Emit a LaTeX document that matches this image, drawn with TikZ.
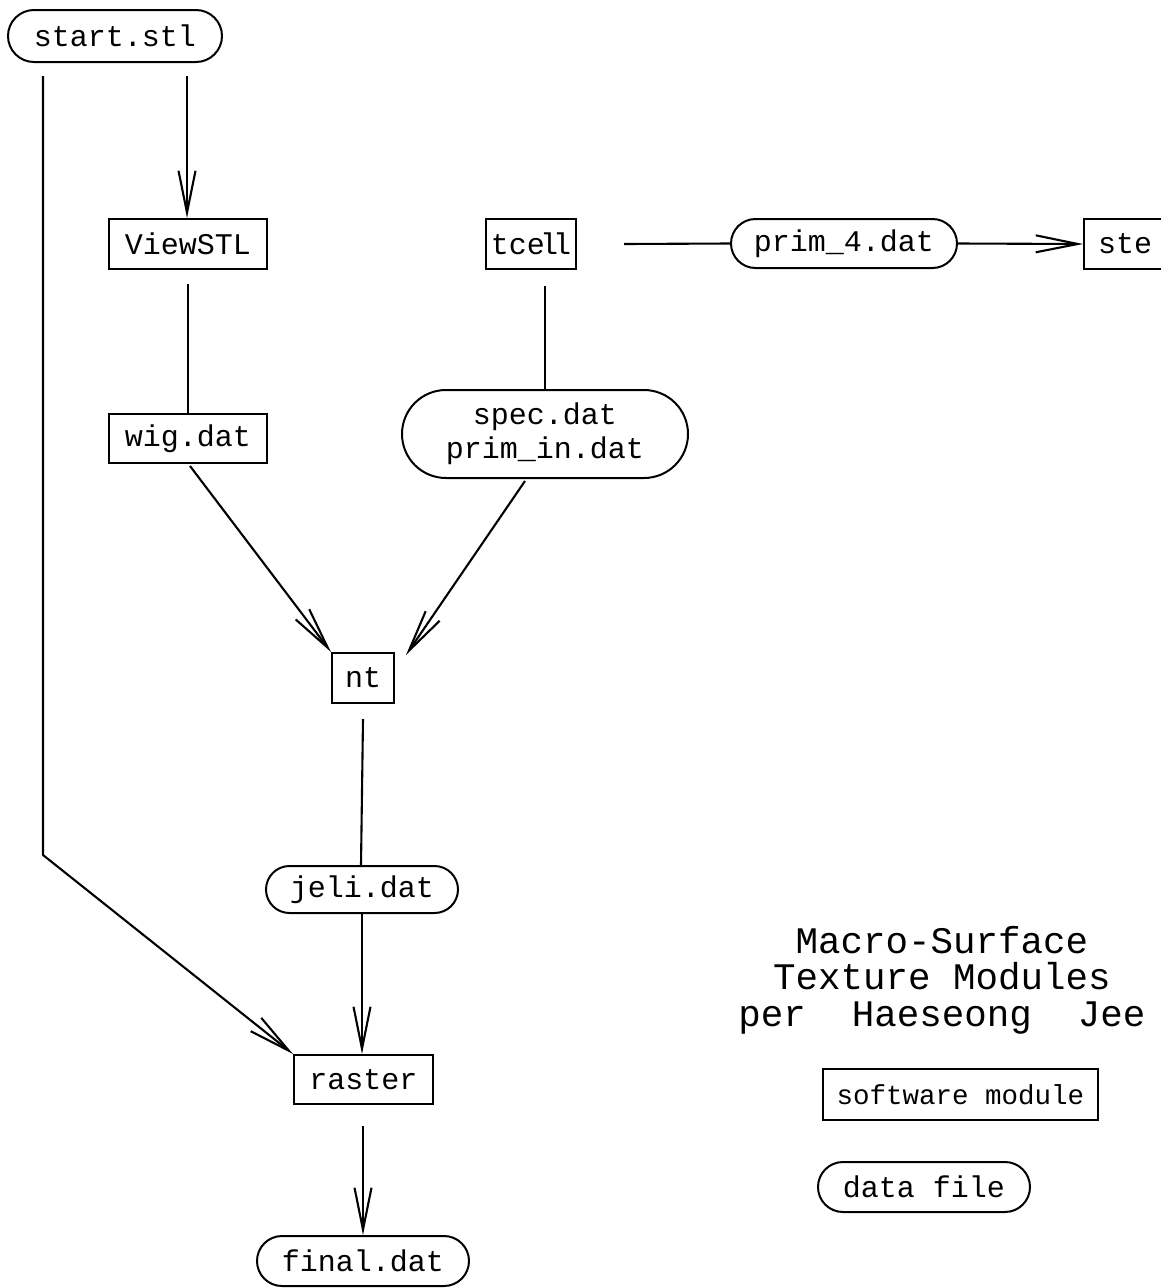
\documentclass[tikz,border=0pt]{standalone}
\usepackage{fontspec}
\setmonofont{Liberation Mono}
\usetikzlibrary{arrows.meta,shapes.misc}
\newcommand\lblfont{\fontsize{30}{34}\selectfont\ttfamily}
\newcommand\smlfont{\fontsize{27.5}{34}\selectfont\ttfamily}
\newcommand\ttlfont{\fontsize{37.5}{36.5}\selectfont\ttfamily}
\begin{document}
\begin{tikzpicture}[x=1pt,y=-1pt,
  modbox/.style={draw, rectangle, line width=2pt, inner sep=0pt, font=\lblfont},
  datpill/.style={draw, rounded rectangle, line width=2pt, inner sep=0pt, font=\lblfont},
  conn/.style={line width=2.1pt, line join=round},
  arr/.style={conn, -{Straight Barb[length=42pt, width=17pt]}}]
\useasboundingbox (0,0) rectangle (1161,1288);
\fill[white] (0,0) rectangle (1161,1288);
\clip (0,0) rectangle (1161,1288);

% nodes
\node[datpill, minimum width=214pt, minimum height=52pt] (start) at (115,36) {start.stl};
\node[modbox, minimum width=158pt, minimum height=50pt] (vstl) at (188,244) {ViewSTL};
\node[modbox, minimum width=158pt, minimum height=49pt] (wig) at (188,438.5) {wig.dat};
\node[modbox, minimum width=90pt, minimum height=50pt] (tcell) at (531,244) {tce\kern-5pt l\kern-5pt l};
\node[datpill, minimum width=226pt, minimum height=49pt] (prim4) at (844,243.5) {prim\_4.dat};
\node[modbox, anchor=west, minimum height=50pt, inner xsep=14pt, text width=100pt, align=left] (ste) at (1083,244) {ste};
\node[datpill, minimum width=286pt, minimum height=88pt, align=center] (spec) at (545,434) {spec.dat\\prim\_in.dat};
\node[modbox, minimum width=62pt, minimum height=50pt] (nt) at (363,678) {nt};
\node[datpill, minimum width=192pt, minimum height=47pt] (jeli) at (362,889.5) {jeli.dat};
\node[modbox, minimum width=139pt, minimum height=49pt] (raster) at (363.5,1079.5) {raster};
\node[datpill, minimum width=212pt, minimum height=50pt] (final) at (363,1261) {final.dat};

% legend
\node[align=center, font=\ttlfont] (title) at (942,980) {Macro-Surface\\Texture Modules\\per\hspace{46pt}Haeseong\hspace{46pt}Jee};
\node[modbox, font=\smlfont, minimum width=275pt, minimum height=51pt] (legmod) at (960.5,1094.5) {software module};
\node[datpill, minimum width=212pt, minimum height=50pt] (legdat) at (924,1187) {data file};

% connectors
\coordinate (bend) at (43,855);
\draw[arr] ([shift={(-72,13)}]start.south) -- (bend) -- (raster.north west);
\draw[arr] ([shift={(72,13)}]start.south) -- ([shift={(-1,0)}]vstl.north);
\draw[conn] ([shift={(0,14)}]vstl.south) -- (wig.north);
\draw[arr] ([shift={(2,2)}]wig.south) -- (nt.north west);
\draw[conn] ([shift={(14,16)}]tcell.south) -- (spec.north);
\draw[arr] ([shift={(-20,2)}]spec.south) -- ([shift={(11,3)}]nt.north east);
\draw[conn] ([shift={(0,15)}]nt.south) -- ([shift={(-1,0)}]jeli.north);
\draw[arr] (jeli.south) -- ([shift={(-1.5,0)}]raster.north);
\draw[arr] ([shift={(-0.5,21)}]raster.south) -- (final.north);
\draw[conn] ([shift={(47,0)}]tcell.east) -- (prim4.west);
\draw[arr] (prim4.east) -- (ste.west);
\end{tikzpicture}
\end{document}
